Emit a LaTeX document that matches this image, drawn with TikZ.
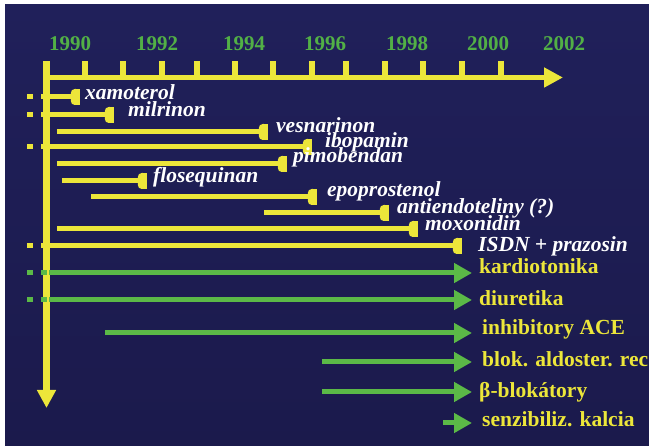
\documentclass[tikz,border=0pt]{standalone}
\usepackage{fontspec}
\setmainfont{Liberation Serif}
\usetikzlibrary{arrows.meta}
\definecolor{bgtop}{HTML}{20205A}
\definecolor{bgmid}{HTML}{2C358E}
\definecolor{bgbot}{HTML}{1B1A4C}
\definecolor{ylw}{HTML}{ECE63A}
\definecolor{grn}{HTML}{5BB947}
\definecolor{yrgrn}{HTML}{52B046}
\tikzset{
  axisline/.style={draw=ylw, line width=#1},
  tickmark/.style={draw=ylw, line width=6.5pt},
  ybar/.style={draw=ylw, line width=5pt},
  gbar/.style={draw=grn, line width=5pt, -{Triangle[length=18pt,width=19pt]}},
  capbox/.style={fill=ylw, rounded corners=4pt, minimum width=9pt, minimum height=16pt, inner sep=0pt, anchor=east},
  ydash/.style={fill=ylw, minimum width=6pt, minimum height=5pt, inner sep=0pt},
  gdash/.style={fill=grn, minimum width=6pt, minimum height=5pt, inner sep=0pt},
  drug/.style={anchor=base west, inner sep=0pt, text=white, font=\fontsize{21.5}{21.5}\selectfont\bfseries\itshape},
  cls/.style={anchor=base west, inner sep=0pt, text=ylw, font=\fontsize{21.5}{21.5}\selectfont\bfseries},
  year/.style={anchor=base, inner sep=0pt, text=yrgrn, font=\fontsize{21}{21}\selectfont\bfseries},
}
\begin{document}
\begin{tikzpicture}[x=1pt,y=-1pt]
\useasboundingbox (0,0) rectangle (649,446);
\fill[white] (0,0) rectangle (649,446);
\shade[top color=bgtop, middle color=bgmid, bottom color=bgbot] (5,5) rectangle (649,446);

% years
\foreach \t/\x in {1990/70,1992/157,1994/244,1996/325,1998/407,2000/488,2002/564}
  \node[year] (y\t) at (\x,51) {\t};

% ticks
\foreach \x [count=\i] in {85,123,162,197,235,273,312,346,385,423,462,501}
  \draw[tickmark] (\x,61) -- (\x,78);

% axes
\coordinate (origin) at (46.5,61);
\coordinate (htail) at (46.5,77.5);
\coordinate (htip) at (563,77.5);
\coordinate (vtip) at (46.5,408);
\draw[axisline=5pt, -{Triangle[length=19pt,width=19pt]}] (htail) -- (htip);
\draw[axisline=7pt, -{Triangle[length=18pt,width=18pt]}] (origin) -- (vtip);

% drug bars: name/line y/start x/cap right x/label x/baseline/text
\foreach \n/\ly/\sx/\cx/\tx/\ty/\txt in {
  a/97/47/80/85/100/xamoterol,
  b/115/47/114/128/117/milrinon,
  c/132/57/268/276/133/vesnarinon,
  d/147/47/312/325/148/ibopamin,
  e/164/57/287/293/163/pimobendan,
  f/181/62/147/153/183/flosequinan,
  g/197/91/317/327/197/epoprostenol,
  h/213/264/389/397/214/antiendoteliny (?),
  i/229/57/418/425/231/moxonidin,
  j/246/47/462/478/252/ISDN + prazosin}
{
  \coordinate (s\n) at (\sx,\ly);
  \node[capbox] (c\n) at (\cx,\ly) {};
  \fill[ylw] (c\n.north) rectangle (c\n.south east);
  \draw[ybar] (s\n) -- (c\n.west);
  \node[drug] (t\n) at (\tx,\ty) {\txt};
}

% yellow dashes
\foreach \ly [count=\i] in {97,115,147,246}{
  \node[ydash] (yd\i a) at (30,\ly) {};
  \node[ydash] (yd\i b) at (44,\ly) {};
}

% green arrows
\foreach \n/\ly/\sx/\tx/\ty/\txt in {
  k/273/49/479/274/kardiotonika,
  l/300/49/479/306/diuretika,
  m/333/105/482/335/inhibitory ACE,
  n/362/322/482/367/blok. aldoster. rec,
  o/392/322/479/398/β-blokátory,
  p/423/443/482/427/senzibiliz. kalcia}
{
  \coordinate (gs\n) at (\sx,\ly);
  \coordinate (ge\n) at (472,\ly);
  \draw[gbar] (gs\n) -- (ge\n);
  \node[cls] (gt\n) at (\tx,\ty) {\txt};
}
\foreach \ly [count=\i] in {273,300}{
  \node[gdash] (gd\i a) at (30,\ly) {};
  \node[gdash] (gd\i b) at (44,\ly) {};
}
\end{tikzpicture}
\end{document}
